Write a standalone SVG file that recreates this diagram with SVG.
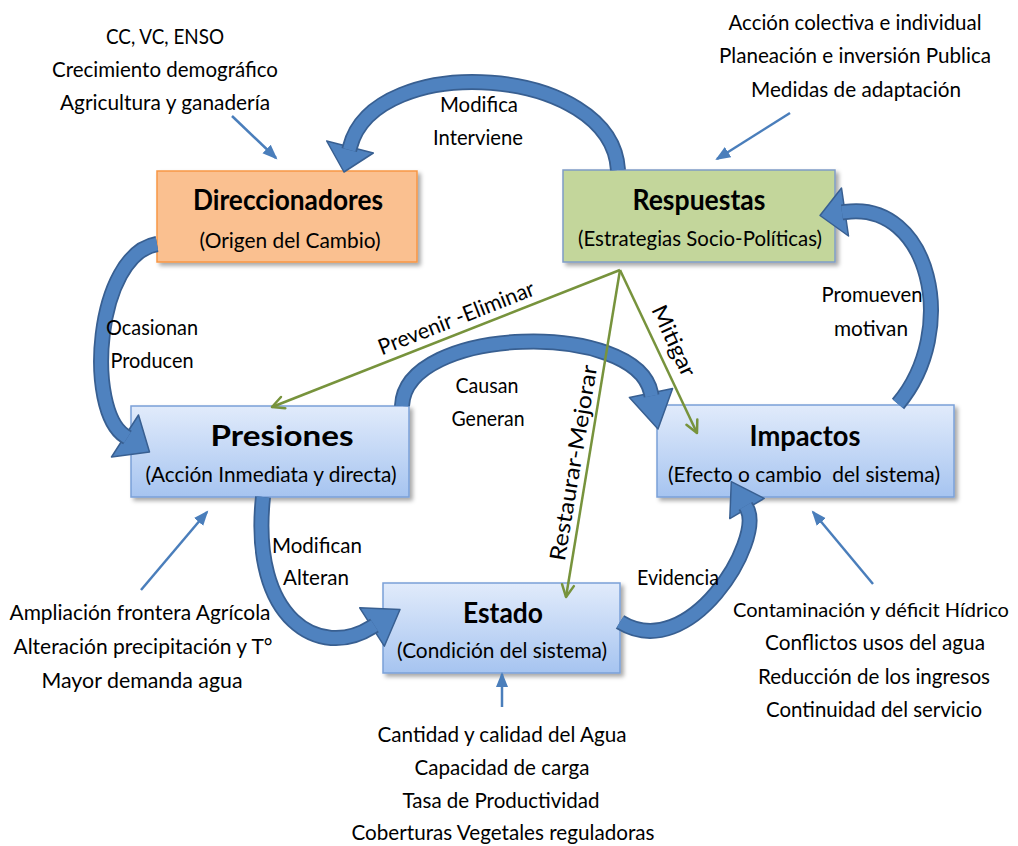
<svg xmlns="http://www.w3.org/2000/svg" width="1018" height="846" viewBox="0 0 1018 846">
<style>
.t{font-family:Lato,"Liberation Sans",sans-serif;font-size:22px;fill:#000;text-anchor:middle}
.h{font-family:Lato,"Liberation Sans",sans-serif;font-size:28px;font-weight:bold;fill:#000;text-anchor:middle}
.box{filter:url(#sh);stroke-width:1.5}
.blue{fill:url(#gb);stroke:#7AA0D8}
.so{fill:none;stroke:#385F91;stroke-width:16}
.si{fill:none;stroke:#4F82BF;stroke-width:12.5}
.hd{fill:#4F82BF;stroke:#385F91;stroke-width:1.5;stroke-linejoin:round}
.g{stroke:#77933C;stroke-width:2.5;fill:none;marker-end:url(#mg)}
.b{stroke:#4A7EBB;stroke-width:2.5;fill:none;marker-end:url(#mb)}
</style>
<defs>
<linearGradient id="gb" x1="0" y1="0" x2="0" y2="1">
<stop offset="0" stop-color="#E1EBFB"/>
<stop offset="1" stop-color="#A6C4F0"/>
</linearGradient>
<filter id="sh" x="-10%" y="-10%" width="125%" height="140%">
<feDropShadow dx="3" dy="3" stdDeviation="2" flood-color="#000" flood-opacity="0.35"/>
</filter>
<marker id="mg" markerUnits="userSpaceOnUse" markerWidth="16" markerHeight="16" refX="12" refY="6" orient="auto" viewBox="-2 -2 16 16">
<path d="M0,0 L12,6 L0,12" fill="none" stroke="#77933C" stroke-width="2.5" stroke-linecap="round" stroke-linejoin="round"/>
</marker>
<marker id="mb" markerUnits="userSpaceOnUse" markerWidth="16" markerHeight="14" refX="13" refY="6" orient="auto" viewBox="0 0 16 12">
<path d="M0,0 L15,6 L0,12 z" fill="#4A7EBB"/>
</marker>
</defs>
<rect width="1018" height="846" fill="#fff"/>

<g id="nodes">
<g id="direccionadores">
<rect class="box" x="157" y="171" width="260" height="91" fill="#FAC090" stroke="#F79646"/>
<text class="h" x="288" y="210" textLength="190" lengthAdjust="spacingAndGlyphs">Direccionadores</text>
<text class="t" x="290" y="248" textLength="181" lengthAdjust="spacingAndGlyphs">(Origen del Cambio)</text>
</g>
<g id="respuestas">
<rect class="box" x="563" y="170" width="272" height="92" fill="#C3D69B" stroke="#7F9CC6"/>
<text class="h" x="699" y="210" textLength="133" lengthAdjust="spacingAndGlyphs">Respuestas</text>
<text class="t" x="700" y="246" textLength="244" lengthAdjust="spacingAndGlyphs">(Estrategias Socio-Políticas)</text>
</g>
<g id="presiones">
<rect class="box blue" x="131" y="406" width="278" height="91"/>
<text class="h" x="282" y="446" textLength="143" lengthAdjust="spacingAndGlyphs">Presiones</text>
<text class="t" x="271" y="482" textLength="251" lengthAdjust="spacingAndGlyphs">(Acción Inmediata y directa)</text>
</g>
<g id="impactos">
<rect class="box blue" x="657" y="405" width="297" height="92"/>
<text class="h" x="805" y="446" textLength="111" lengthAdjust="spacingAndGlyphs">Impactos</text>
<text class="t" x="804" y="482" textLength="272" lengthAdjust="spacingAndGlyphs" xml:space="preserve">(Efecto o cambio  del sistema)</text>
</g>
<g id="estado">
<rect class="box blue" x="383" y="583" width="237" height="90"/>
<text class="h" x="503" y="623" textLength="80" lengthAdjust="spacingAndGlyphs">Estado</text>
<text class="t" x="502" y="658" textLength="210" lengthAdjust="spacingAndGlyphs">(Condición del sistema)</text>
</g>
</g>

<g id="connectors">
<g id="arrow-modifica">
<polygon class="hd" points="373.3,153 344,172 326.7,141"/>
<path class="so" d="M618,170 C612,65 375,50 350,147 l-0.75,2.9"/>
<path class="si" d="M618,170 C612,65 375,50 350,147 l-0.75,2.9"/>
</g>
<g id="arrow-ocasionan">
<polygon class="hd" points="138.5,415 149.5,452 111.5,457"/>
<path class="so" d="M157,244 C95,255 85,410 125,436 l2.5,1.6"/>
<path class="si" d="M157,244 C95,255 85,410 125,436 l2.5,1.6"/>
</g>
<g id="arrow-causan">
<polygon class="hd" points="672.6,388.6 658,429 629.4,397.4"/>
<path class="so" d="M402,406 C405,325 636,320 651,393 l0.6,2.9"/>
<path class="si" d="M402,406 C405,325 636,320 651,393 l0.6,2.9"/>
</g>
<g id="arrow-modifican">
<polygon class="hd" points="384.3,646.2 400,609.5 359.7,607.8"/>
<path class="so" d="M263,497 C250,620 320,660 372,627 l2.5,-1.6"/>
<path class="si" d="M263,497 C250,620 320,660 372,627 l2.5,-1.6"/>
</g>
<g id="arrow-evidencia">
<polygon class="hd" points="764.2,498.4 731.3,481.7 729.8,518.6"/>
<path class="so" d="M620,622 C690,665 764,540 747,508.5 l-1.5,-2.6"/>
<path class="si" d="M620,622 C690,665 764,540 747,508.5 l-1.5,-2.6"/>
</g>
<g id="arrow-promueven">
<polygon class="hd" points="848.5,236 820,215.5 841.5,188"/>
<path class="so" d="M898,404 C960,330 930,200 845,212 l-3,0.4"/>
<path class="si" d="M898,404 C960,330 930,200 845,212 l-3,0.4"/>
</g>
<g id="green-lines">
<line class="g" x1="620" y1="270" x2="272" y2="407"/>
<line class="g" x1="620" y1="270" x2="697" y2="433"/>
<line class="g" x1="620" y1="270" x2="566" y2="597"/>
</g>
<g id="thin-arrows">
<line class="b" x1="232" y1="116" x2="276" y2="158"/>
<line class="b" x1="790" y1="113" x2="717" y2="159"/>
<line class="b" x1="141" y1="590" x2="207" y2="512"/>
<line class="b" x1="502" y1="707" x2="502" y2="674"/>
<line class="b" x1="873" y1="584" x2="813" y2="512"/>
</g>
</g>

<g id="labels">
<text class="t" x="165" y="44" textLength="118" lengthAdjust="spacingAndGlyphs">CC, VC, ENSO</text>
<text class="t" x="165" y="77" textLength="226" lengthAdjust="spacingAndGlyphs">Crecimiento demográfico</text>
<text class="t" x="165" y="110" textLength="210" lengthAdjust="spacingAndGlyphs">Agricultura y ganadería</text>
<text class="t" x="855" y="30" textLength="253" lengthAdjust="spacingAndGlyphs">Acción colectiva e individual</text>
<text class="t" x="855" y="63" textLength="272" lengthAdjust="spacingAndGlyphs">Planeación e inversión Publica</text>
<text class="t" x="856" y="97" textLength="210" lengthAdjust="spacingAndGlyphs">Medidas de adaptación</text>
<text class="t" x="479" y="112" textLength="78" lengthAdjust="spacingAndGlyphs">Modifica</text>
<text class="t" x="478" y="145" textLength="90" lengthAdjust="spacingAndGlyphs">Interviene</text>
<text class="t" x="152" y="335" textLength="92" lengthAdjust="spacingAndGlyphs">Ocasionan</text>
<text class="t" x="152" y="368" textLength="83" lengthAdjust="spacingAndGlyphs">Producen</text>
<text class="t" x="487" y="393" textLength="63" lengthAdjust="spacingAndGlyphs">Causan</text>
<text class="t" x="488" y="426" textLength="73" lengthAdjust="spacingAndGlyphs">Generan</text>
<text class="t" x="872" y="302" textLength="101" lengthAdjust="spacingAndGlyphs">Promueven</text>
<text class="t" x="871" y="336" textLength="74" lengthAdjust="spacingAndGlyphs">motivan</text>
<text class="t" x="317" y="553" textLength="90" lengthAdjust="spacingAndGlyphs">Modifican</text>
<text class="t" x="316" y="585" textLength="66" lengthAdjust="spacingAndGlyphs">Alteran</text>
<text class="t" x="678" y="585" textLength="82" lengthAdjust="spacingAndGlyphs">Evidencia</text>
<text class="t" x="140" y="620" textLength="261" lengthAdjust="spacingAndGlyphs">Ampliación frontera Agrícola</text>
<text class="t" x="143" y="654" textLength="259" lengthAdjust="spacingAndGlyphs">Alteración precipitación y T°</text>
<text class="t" x="142" y="688" textLength="201" lengthAdjust="spacingAndGlyphs">Mayor demanda agua</text>
<text class="t" x="871" y="617" style="font-size:20px" textLength="276" lengthAdjust="spacingAndGlyphs">Contaminación y déficit Hídrico</text>
<text class="t" x="875" y="650" textLength="220" lengthAdjust="spacingAndGlyphs">Conflictos usos del agua</text>
<text class="t" x="874" y="684" textLength="232" lengthAdjust="spacingAndGlyphs">Reducción de los ingresos</text>
<text class="t" x="874" y="717" textLength="216" lengthAdjust="spacingAndGlyphs">Continuidad del servicio</text>
<text class="t" x="502" y="742" textLength="249" lengthAdjust="spacingAndGlyphs">Cantidad y calidad del Agua</text>
<text class="t" x="502" y="775" textLength="175" lengthAdjust="spacingAndGlyphs">Capacidad de carga</text>
<text class="t" x="501" y="808" textLength="197" lengthAdjust="spacingAndGlyphs">Tasa de Productividad</text>
<text class="t" x="503" y="840" textLength="303" lengthAdjust="spacingAndGlyphs">Coberturas Vegetales reguladoras</text>
<text class="t" transform="translate(459,325) rotate(-21.5)" x="0" y="0" textLength="166" lengthAdjust="spacingAndGlyphs">Prevenir -Eliminar</text>
<text class="t" transform="translate(667,344) rotate(65)" x="0" y="0" textLength="76" lengthAdjust="spacingAndGlyphs">Mitigar</text>
<text class="t" transform="translate(581,464) rotate(-80.5)" x="0" y="0" textLength="198" lengthAdjust="spacingAndGlyphs">Restaurar-Mejorar</text>
</g>
</svg>
